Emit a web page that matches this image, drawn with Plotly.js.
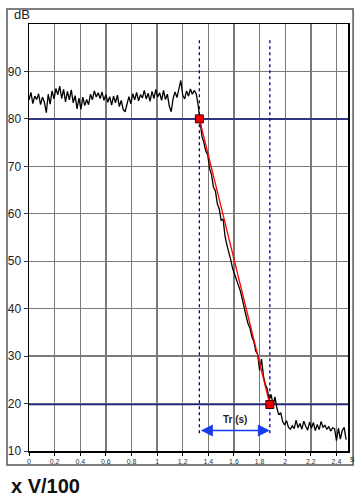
<!DOCTYPE html>
<html><head><meta charset="utf-8">
<script src="https://cdn.plot.ly/plotly-3.0.1.min.js"></script>
<style>html,body{margin:0;padding:0;background:#fff;}#c{width:355px;height:499px;}</style>
</head><body><div id="c"></div>
<script>
// time (s)
var timeS = [0,0.015,0.03,0.045,0.06,0.075,0.09,0.105,0.12,0.135,0.15,0.165,0.18,0.195,0.21,0.225,0.24,0.255,0.27,0.285,
0.3,0.315,0.33,0.345,0.36,0.375,0.39,0.405,0.42,0.435,0.45,0.465,0.48,0.495,0.51,0.525,0.54,0.555,0.57,0.585,
0.6,0.615,0.63,0.645,0.66,0.675,0.69,0.705,0.72,0.735,0.75,0.765,0.78,0.795,0.81,0.825,0.84,0.855,0.87,0.885,
0.9,0.915,0.93,0.945,0.96,0.975,0.99,1.005,1.02,1.035,1.05,1.065,1.08,1.095,1.11,1.125,1.14,1.155,1.17,1.185,
1.2,1.215,1.23,1.245,1.26,1.275,1.29,1.305,1.32,1.335,1.35,1.365,1.38,1.395,1.41,1.425,1.44,1.455,1.47,1.485,
1.5,1.515,1.53,1.545,1.56,1.575,1.59,1.605,1.62,1.635,1.65,1.665,1.68,1.695,1.71,1.725,1.74,1.755,1.77,1.785,
1.8,1.815,1.83,1.845,1.86,1.875,1.89,1.905,1.92,1.935,1.95,1.965,1.98,1.995,2.01,2.025,2.04,2.055,2.07,2.085,
2.1,2.115,2.13,2.145,2.16,2.175,2.19,2.205,2.22,2.235,2.25,2.265,2.28,2.295,2.31,2.325,2.34,2.355,2.37,2.385,
2.4,2.415,2.43,2.445,2.46,2.475];
// level (dB)
var levelDb = [84.0,85.6,83.2,84.8,84.1,85.3,83.0,84.6,83.5,81.3,85.2,83.1,85.9,84.2,86.4,85.1,86.9,84.3,86.2,83.6,
85.8,84.0,86.1,83.4,84.9,82.1,84.4,82.0,84.6,82.8,84.1,83.0,85.2,84.0,85.9,84.6,85.5,84.3,85.7,83.9,
85.1,83.5,84.7,82.9,84.8,83.4,85.0,82.6,83.9,82.0,81.5,83.4,84.7,83.2,85.3,84.0,85.6,83.8,85.1,84.4,
86.0,84.2,85.4,83.7,85.8,84.3,86.2,84.6,85.5,83.9,86.0,84.1,85.2,82.7,81.5,84.3,85.7,84.5,86.6,88.1,
85.0,84.2,85.9,84.8,86.3,85.2,86.0,85.3,83.0,79.5,76.3,75.0,73.2,72.4,69.5,68.2,65.6,64.8,62.1,61.0,
58.6,58.9,55.3,53.4,52.1,50.3,48.4,47.2,46.1,44.6,43.7,42.0,39.9,38.4,36.8,35.9,34.0,33.1,31.0,30.4,
27.0,29.4,25.8,24.0,23.1,20.8,21.9,19.7,21.4,19.0,17.6,18.1,16.2,15.5,16.4,15.0,14.6,15.3,14.7,16.5,
14.9,15.8,14.6,16.3,15.2,14.4,16.1,14.8,16.0,14.3,15.6,14.5,16.2,15.0,15.4,14.6,15.1,14.2,14.9,14.7,
12.2,14.8,12.5,14.3,15.0,12.4];
// reference levels and decay fit points
var refLevels = [80, 19.8];
var fitTimes = [1.33, 1.88];
var fitLevels = [80, 19.8];
var markerSpan = [96.6, 13.5];
var arrowLevel = 14.3;
var arrowLabel = 'Tr (s)';
var xTicks = [0,0.2,0.4,0.6,0.8,1,1.2,1.4,1.6,1.8,2,2.2,2.4];
var yTicks = [10,20,30,40,50,60,70,80,90];
var xMax = 2.49;

var font = 'Arial, "Liberation Sans", sans-serif';
var traces = [];
refLevels.forEach(function(v){
  traces.push({x:[0,xMax],y:[v,v],mode:'lines',line:{color:'#20208c',width:1.5},hoverinfo:'skip'});
});
fitTimes.forEach(function(t){
  traces.push({x:[t,t],y:markerSpan,mode:'lines',line:{color:'#00008b',width:1.3,dash:'dot'},hoverinfo:'skip'});
});
traces.push({x:timeS,y:levelDb,mode:'lines',line:{color:'#000',width:1.3}});
traces.push({x:fitTimes,y:fitLevels,mode:'lines+markers',line:{color:'#ff0000',width:1.3},
  marker:{symbol:'square',size:8,color:'#ee0000',line:{color:'#400000',width:1}}});

var layout = {
  width:355,height:499,showlegend:false,
  paper_bgcolor:'#fff',plot_bgcolor:'#fff',
  separators:', ',
  margin:{l:29,r:7,t:24,b:48},
  font:{family:font,color:'#222'},
  xaxis:{range:[0,xMax],tickvals:xTicks,ticks:'outside',ticklen:3,tickcolor:'#000',
    showgrid:true,gridcolor:'#7a7a7a',gridwidth:1.4,zeroline:false,
    showline:true,linecolor:'#000',linewidth:1.5,mirror:true,
    tickfont:{size:7,color:'#333',family:font}},
  yaxis:{range:[10,100],tickvals:yTicks,ticks:'outside',ticklen:4,tickcolor:'#333',
    showgrid:true,gridcolor:'#7a7a7a',gridwidth:1.4,zeroline:false,
    showline:true,linecolor:'#000',linewidth:1.5,mirror:true,
    tickfont:{size:12,color:'#222',family:font}},
  shapes:[{type:'rect',xref:'paper',yref:'paper',x0:-0.069,x1:1.016,y0:-0.033,y1:1.035,
    line:{color:'#555',width:1.5},fillcolor:'rgba(0,0,0,0)',layer:'below'}],
  annotations:[
    {x:fitTimes[1],y:arrowLevel,ax:fitTimes[0],ay:arrowLevel,xref:'x',yref:'y',axref:'x',ayref:'y',
     text:'',showarrow:true,arrowhead:2,startarrowhead:2,arrowside:'end+start',arrowsize:1.6,arrowwidth:1.5,arrowcolor:'#1a3cf0'},
    {x:(fitTimes[0]+fitTimes[1])/2,y:arrowLevel+2.3,xref:'x',yref:'y',text:'<b>'+arrowLabel+'</b>',showarrow:false,
     font:{size:10,color:'#222',family:font}},
    {xref:'paper',yref:'paper',x:-0.052,y:1.0,xanchor:'left',yanchor:'bottom',text:'dB',showarrow:false,
     font:{size:13,color:'#222',family:font}},
    {xref:'paper',yref:'paper',x:1.0,y:-0.003,xanchor:'left',yanchor:'top',text:'s',showarrow:false,
     font:{size:9,color:'#222',family:font}},
    {xref:'paper',yref:'paper',x:-0.062,y:-0.083,xanchor:'left',yanchor:'middle',text:'<b>x V/100</b>',showarrow:false,
     font:{size:20,color:'#111',family:font}}
  ]
};
Plotly.newPlot('c',traces,layout,{staticPlot:true,displayModeBar:false});
</script></body></html>
